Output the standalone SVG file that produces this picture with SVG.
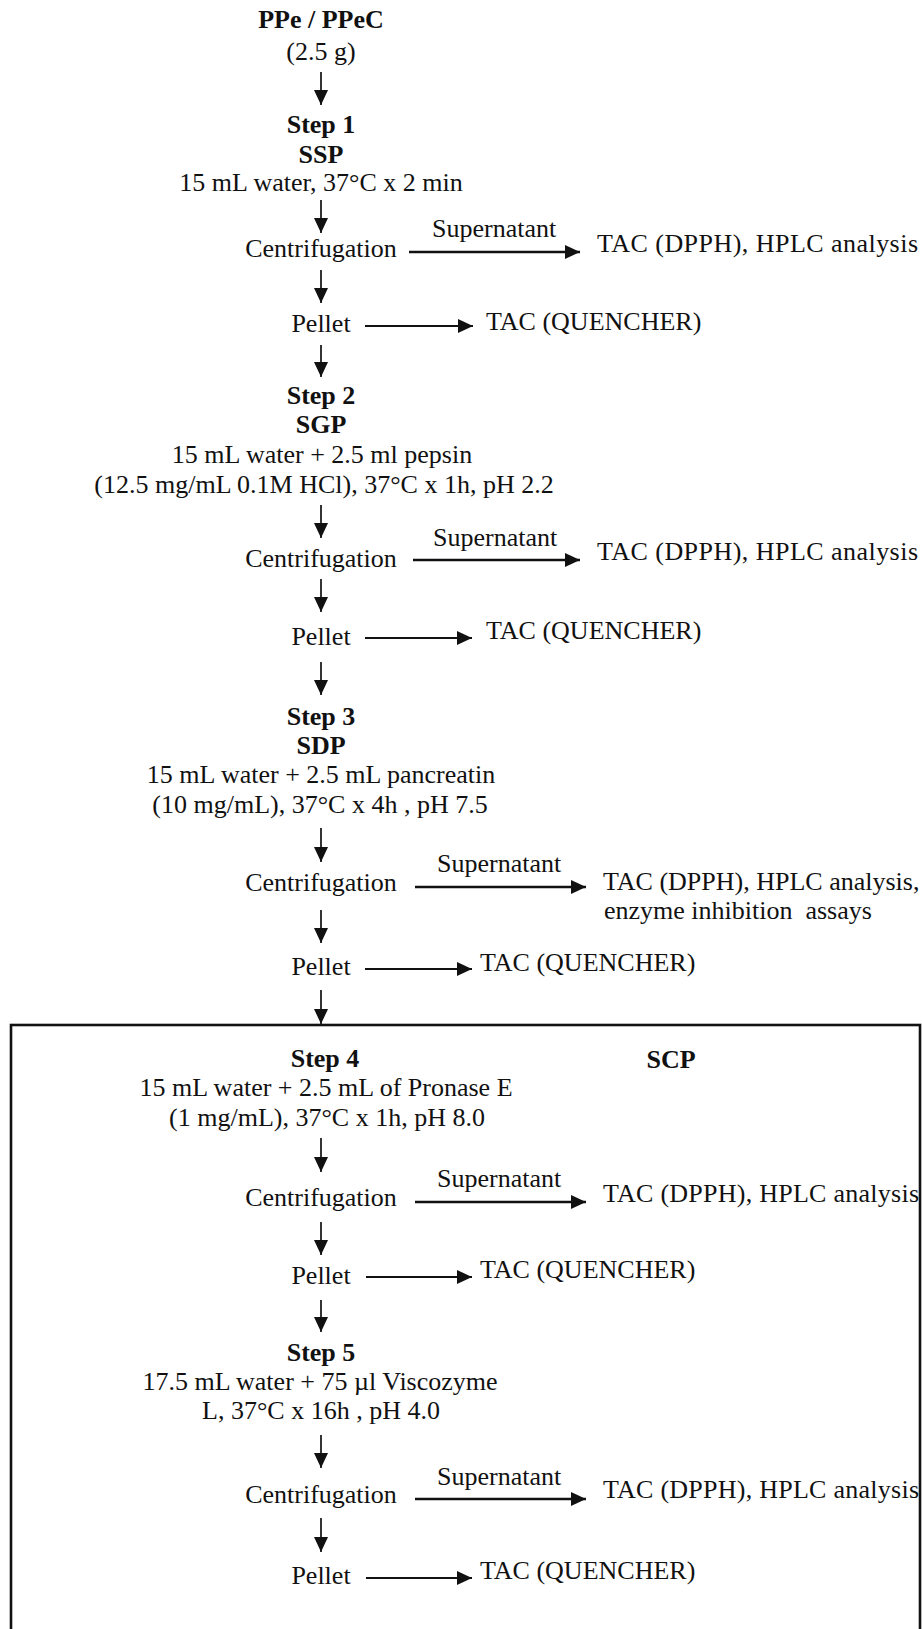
<svg xmlns="http://www.w3.org/2000/svg" width="922" height="1629" viewBox="0 0 922 1629">
<defs>
<style>
text{font-family:"Liberation Serif","Times New Roman",serif;font-size:26px;fill:#111}
.b{font-weight:bold}
.c{text-anchor:middle}
.v{stroke:#111;stroke-width:1.7;fill:none}
.hs{stroke:#111;stroke-width:2.7;fill:none}
.hp{stroke:#111;stroke-width:2.2;fill:none}
</style>
<marker id="ah" markerUnits="userSpaceOnUse" markerWidth="16" markerHeight="14" refX="15" refY="7" orient="auto">
<path d="M0,0 L15,7 L0,14 z" fill="#111"/>
</marker>
</defs>
<rect width="922" height="1629" fill="#fff"/>
<rect id="scp-box" x="11" y="1025" width="909" height="640" fill="none" stroke="#111" stroke-width="2.6"/>

<g id="connectors">
<line class="v" x1="321" y1="72" x2="321" y2="105" marker-end="url(#ah)"/>
<line class="v" x1="321" y1="200" x2="321" y2="233" marker-end="url(#ah)"/>
<line class="v" x1="321" y1="270" x2="321" y2="303" marker-end="url(#ah)"/>
<line class="v" x1="321" y1="345" x2="321" y2="377" marker-end="url(#ah)"/>
<line class="v" x1="321" y1="505" x2="321" y2="538" marker-end="url(#ah)"/>
<line class="v" x1="321" y1="579" x2="321" y2="612" marker-end="url(#ah)"/>
<line class="v" x1="321" y1="662" x2="321" y2="695" marker-end="url(#ah)"/>
<line class="v" x1="321" y1="828" x2="321" y2="862" marker-end="url(#ah)"/>
<line class="v" x1="321" y1="910" x2="321" y2="943" marker-end="url(#ah)"/>
<line class="v" x1="321" y1="990" x2="321" y2="1024" marker-end="url(#ah)"/>
<line class="v" x1="321" y1="1138" x2="321" y2="1172" marker-end="url(#ah)"/>
<line class="v" x1="321" y1="1222" x2="321" y2="1255" marker-end="url(#ah)"/>
<line class="v" x1="321" y1="1300" x2="321" y2="1332" marker-end="url(#ah)"/>
<line class="v" x1="321" y1="1435" x2="321" y2="1468" marker-end="url(#ah)"/>
<line class="v" x1="321" y1="1518" x2="321" y2="1552" marker-end="url(#ah)"/>
<line class="hs" x1="409" y1="252" x2="580" y2="252" marker-end="url(#ah)"/>
<line class="hs" x1="413" y1="560" x2="580" y2="560" marker-end="url(#ah)"/>
<line class="hs" x1="415" y1="887" x2="586" y2="887" marker-end="url(#ah)"/>
<line class="hs" x1="415" y1="1202" x2="586" y2="1202" marker-end="url(#ah)"/>
<line class="hs" x1="415" y1="1499" x2="586" y2="1499" marker-end="url(#ah)"/>
<line class="hp" x1="365" y1="326" x2="473" y2="326" marker-end="url(#ah)"/>
<line class="hp" x1="365" y1="638" x2="472" y2="638" marker-end="url(#ah)"/>
<line class="hp" x1="365" y1="969" x2="472" y2="969" marker-end="url(#ah)"/>
<line class="hp" x1="366" y1="1277" x2="472" y2="1277" marker-end="url(#ah)"/>
<line class="hp" x1="366" y1="1578" x2="472" y2="1578" marker-end="url(#ah)"/>
<text x="432" y="237">Supernatant</text>
<text x="433" y="546">Supernatant</text>
<text x="437" y="872">Supernatant</text>
<text x="437" y="1187">Supernatant</text>
<text x="437" y="1485">Supernatant</text>
</g>

<g id="start">
<text class="b c" x="321" y="28">PPe / PPeC</text>
<text class="c" x="321" y="60">(2.5 g)</text>
</g>

<g id="step1">
<text class="b c" x="321" y="133">Step 1</text>
<text class="b c" x="321" y="163">SSP</text>
<text class="c" x="321" y="191">15 mL water, 37°C x 2 min</text>
</g>
<g id="centrif1"><text class="c" x="321" y="257">Centrifugation</text></g>
<g id="sup1"><text x="597" y="252" textLength="321" lengthAdjust="spacing">TAC (DPPH), HPLC analysis</text></g>
<g id="pellet1"><text class="c" x="321" y="332">Pellet</text></g>
<g id="que1"><text x="486" y="330">TAC (QUENCHER)</text></g>

<g id="step2">
<text class="b c" x="321" y="404">Step 2</text>
<text class="b c" x="321" y="433">SGP</text>
<text class="c" x="322" y="463">15 mL water + 2.5 ml pepsin</text>
<text class="c" x="324" y="493">(12.5 mg/mL 0.1M HCl), 37°C x 1h, pH 2.2</text>
</g>
<g id="centrif2"><text class="c" x="321" y="567">Centrifugation</text></g>
<g id="sup2"><text x="597" y="560" textLength="321" lengthAdjust="spacing">TAC (DPPH), HPLC analysis</text></g>
<g id="pellet2"><text class="c" x="321" y="645">Pellet</text></g>
<g id="que2"><text x="486" y="639">TAC (QUENCHER)</text></g>

<g id="step3">
<text class="b c" x="321" y="725">Step 3</text>
<text class="b c" x="321" y="754">SDP</text>
<text class="c" x="321" y="783">15 mL water + 2.5 mL pancreatin</text>
<text class="c" x="320" y="813">(10 mg/mL), 37°C x 4h , pH 7.5</text>
</g>
<g id="centrif3"><text class="c" x="321" y="891">Centrifugation</text></g>
<g id="sup3">
<text x="603" y="890">TAC (DPPH), HPLC analysis,</text>
<text x="604" y="919" xml:space="preserve">enzyme inhibition  assays</text>
</g>
<g id="pellet3"><text class="c" x="321" y="975">Pellet</text></g>
<g id="que3"><text x="480" y="971">TAC (QUENCHER)</text></g>

<g id="scp-label"><text class="b c" x="671" y="1068">SCP</text></g>
<g id="step4">
<text class="b c" x="325" y="1067">Step 4</text>
<text class="c" x="326" y="1096">15 mL water + 2.5 mL of Pronase E</text>
<text class="c" x="327" y="1126">(1 mg/mL), 37°C x 1h, pH 8.0</text>
</g>
<g id="centrif4"><text class="c" x="321" y="1206">Centrifugation</text></g>
<g id="sup4"><text x="603" y="1202" textLength="316" lengthAdjust="spacing">TAC (DPPH), HPLC analysis</text></g>
<g id="pellet4"><text class="c" x="321" y="1284">Pellet</text></g>
<g id="que4"><text x="480" y="1278">TAC (QUENCHER)</text></g>

<g id="step5">
<text class="b c" x="321" y="1361">Step 5</text>
<text class="c" x="320" y="1390">17.5 mL water + 75 µl Viscozyme</text>
<text class="c" x="321" y="1419">L, 37°C x 16h , pH 4.0</text>
</g>
<g id="centrif5"><text class="c" x="321" y="1503">Centrifugation</text></g>
<g id="sup5"><text x="603" y="1498" textLength="316" lengthAdjust="spacing">TAC (DPPH), HPLC analysis</text></g>
<g id="pellet5"><text class="c" x="321" y="1584">Pellet</text></g>
<g id="que5"><text x="480" y="1579">TAC (QUENCHER)</text></g>
</svg>
